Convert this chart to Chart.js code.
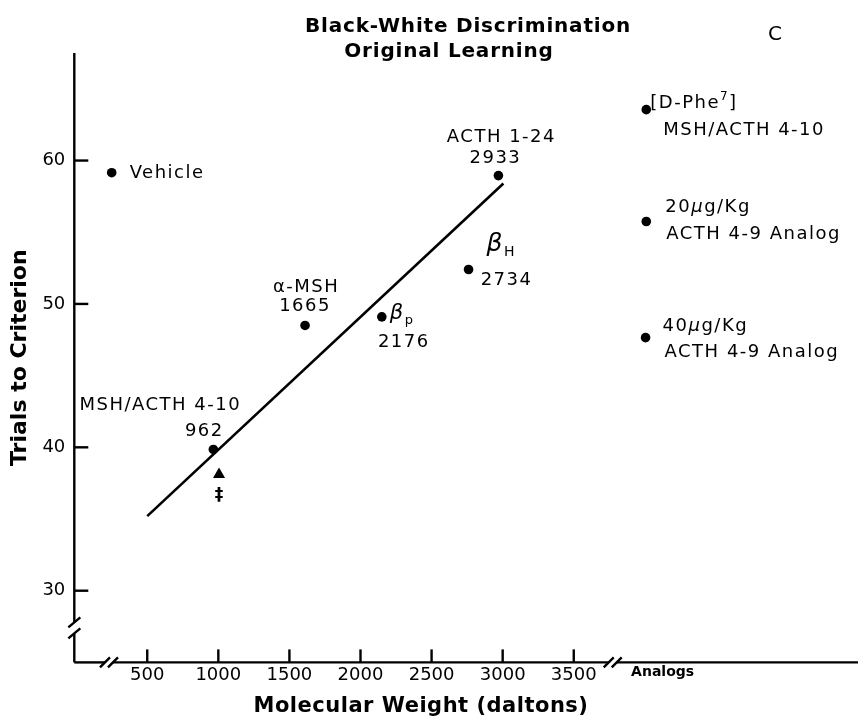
<!DOCTYPE html>
<html>
<head>
<meta charset="utf-8">
<script src="https://cdn.jsdelivr.net/npm/chart.js@4.4.1/dist/chart.umd.min.js"></script>
<style>
  html, body { margin: 0; padding: 0; background: #fff; }
  canvas { display: block; }
</style>
</head>
<body>
<canvas id="chart" width="858" height="719"></canvas>
<script>
const FONT = "'DejaVu Sans', sans-serif";

// Peptides that sit on the regression line
const peptideTop = ['MSH/ACTH 4-10', 'α-MSH', 'βp', 'βH', 'ACTH 1-24'];
const peptideMW = ['962', '1665', '2176', '2734', '2933'];
const peptideX = [965, 1610, 2150, 2760, 2970];
const peptideY = [39.85, 48.5, 49.1, 52.4, 58.95];

// Vehicle control
const vehicleX = [250];
const vehicleY = [59.15];

// Analogs (plotted off-scale at the right)
const analogTop = ['[D-Phe7]', '20μg/Kg', '40μg/Kg'];
const analogBottom = ['MSH/ACTH 4-10', 'ACTH 4-9 Analog', 'ACTH 4-9 Analog'];
const analogX = [4010, 4010, 4005];
const analogY = [63.55, 55.75, 47.65];

// Triangle (‡) under MSH/ACTH 4-10
const triangleX = [1005];
const triangleY = [38.1];

// Regression line end points
const fitX = [500, 3005];
const fitY = [35.2, 58.4];

// Axis ticks
const xTickValues = [500, 1000, 1500, 2000, 2500, 3000, 3500];
const yTickValues = [30, 40, 50, 60];
const analogsTickX = 4125;
const xBreaks = [231, 3774];

// label offsets (px) from each dot: [dx, dy, align]
const peptideTopPos = [[-53, -44, 'center'], [1, -38, 'center'], [8, -2, 'left'], [18, -25, 'left'], [3, -38, 'center']];
const peptideMWPos = [[-9, -18, 'center'], [0, -19, 'center'], [22, 25, 'center'], [38, 11, 'center'], [-3, -17, 'center']];
const analogTopPos = [[4, -6], [19, -14], [17, -11]];
const analogBottomPos = [[17, 21], [20, 13], [19, 15]];

// rich text pieces: [text, size, style, dy]
const RICH = {
  'βp': [['β', 21, 'italic', -1], ['p', 13, '', 6]],
  'βH': [['β', 25, 'italic', 0], ['H', 14, '', 8]],
  '[D-Phe7]': [['[D-Phe', 18, '', 0], ['7', 12, '', -7], [']', 18, '', 0]],
  '20μg/Kg': [['20', 18, '', 0], ['μ', 18, 'italic', 0], ['g/Kg', 18, '', 0]],
  '40μg/Kg': [['40', 18, '', 0], ['μ', 18, 'italic', 0], ['g/Kg', 18, '', 0]]
};

function drawRich(ctx, text, x, y, align) {
  const parts = RICH[text] || [[text, 18, '', 0]];
  ctx.letterSpacing = '1.5px';
  ctx.textAlign = 'left';
  ctx.textBaseline = 'middle';
  let w = 0;
  parts.forEach(p => {
    ctx.font = `${p[2]} ${p[1]}px ${FONT}`;
    w += ctx.measureText(p[0]).width;
  });
  let cx = align === 'center' ? x - w / 2 : x;
  parts.forEach(p => {
    ctx.font = `${p[2]} ${p[1]}px ${FONT}`;
    ctx.fillText(p[0], cx, y + p[3]);
    cx += ctx.measureText(p[0]).width;
  });
  ctx.letterSpacing = '0px';
}

const decor = {
  id: 'decor',
  afterDraw(chart) {
    const ctx = chart.ctx;
    const xs = chart.scales.x, ys = chart.scales.y;
    const { left, top, bottom } = chart.chartArea;
    ctx.save();
    ctx.strokeStyle = '#000';
    ctx.fillStyle = '#000';
    ctx.lineWidth = 2.4;
    const seg = (x1, y1, x2, y2) => {
      ctx.beginPath(); ctx.moveTo(x1, y1); ctx.lineTo(x2, y2); ctx.stroke();
    };

    // y axis with break
    const yb1 = bottom - 40, yb2 = bottom - 29;
    seg(left, top, left, yb1);
    seg(left, yb2, left, bottom);
    seg(left - 6, yb1 + 5, left + 6, yb1 - 5);
    seg(left - 6, yb2 + 5, left + 6, yb2 - 5);

    // x axis with breaks, running to the page edge
    let xStart = left;
    xBreaks.forEach(v => {
      const c = xs.getPixelForValue(v);
      seg(xStart, bottom, c - 4, bottom);
      seg(c - 9, bottom + 5, c + 1, bottom - 5);
      seg(c - 1, bottom + 5, c + 9, bottom - 5);
      xStart = c + 4;
    });
    seg(xStart, bottom, chart.width, bottom);

    // inward tick marks
    ys.ticks.forEach(t => {
      const p = ys.getPixelForValue(t.value);
      seg(left, p, left + 14, p);
    });
    xs.ticks.forEach(t => {
      if (!xTickValues.includes(t.value)) return;
      const p = xs.getPixelForValue(t.value);
      seg(p, bottom, p, bottom - 13);
    });

    // titles
    ctx.letterSpacing = '0.8px';
    ctx.font = `bold 20px ${FONT}`;
    ctx.textAlign = 'center';
    ctx.textBaseline = 'alphabetic';
    ctx.fillText('Black-White Discrimination', 468, 32);
    ctx.fillText('Original Learning', 449, 57);
    ctx.letterSpacing = '0.5px';
    ctx.font = `bold 21px ${FONT}`;
    ctx.textBaseline = 'middle';
    ctx.fillText('Molecular Weight (daltons)', 421, 707);
    ctx.letterSpacing = '0px';
    ctx.textBaseline = 'alphabetic';
    ctx.font = `20px ${FONT}`;
    ctx.fillText('C', 775, 40);

    // point labels
    const pts = chart.getDatasetMeta(1).data;
    pts.forEach((pt, i) => {
      drawRich(ctx, peptideTop[i], pt.x + peptideTopPos[i][0], pt.y + peptideTopPos[i][1], peptideTopPos[i][2]);
      drawRich(ctx, peptideMW[i], pt.x + peptideMWPos[i][0], pt.y + peptideMWPos[i][1], peptideMWPos[i][2]);
    });
    const veh = chart.getDatasetMeta(2).data[0];
    drawRich(ctx, 'Vehicle', veh.x + 18, veh.y + 1, 'left');
    chart.getDatasetMeta(3).data.forEach((pt, i) => {
      drawRich(ctx, analogTop[i], pt.x + analogTopPos[i][0], pt.y + analogTopPos[i][1], 'left');
      drawRich(ctx, analogBottom[i], pt.x + analogBottomPos[i][0], pt.y + analogBottomPos[i][1], 'left');
    });
    const tri = chart.getDatasetMeta(4).data[0];
    ctx.font = `bold 17px ${FONT}`;
    ctx.textAlign = 'center';
    ctx.textBaseline = 'middle';
    ctx.fillText('‡', tri.x, tri.y + 21);
    ctx.restore();
  }
};

new Chart(document.getElementById('chart'), {
  type: 'scatter',
  data: {
    datasets: [
      {
        type: 'line',
        data: fitX.map((x, i) => ({ x, y: fitY[i] })),
        borderColor: '#000',
        borderWidth: 2.6,
        pointRadius: 0
      },
      {
        data: peptideX.map((x, i) => ({ x, y: peptideY[i] })),
        backgroundColor: '#000', borderWidth: 0, pointRadius: 4.8
      },
      {
        data: vehicleX.map((x, i) => ({ x, y: vehicleY[i] })),
        backgroundColor: '#000', borderWidth: 0, pointRadius: 4.8
      },
      {
        data: analogX.map((x, i) => ({ x, y: analogY[i] })),
        backgroundColor: '#000', borderWidth: 0, pointRadius: 4.8
      },
      {
        data: triangleX.map((x, i) => ({ x, y: triangleY[i] })),
        backgroundColor: '#000', borderWidth: 0, pointRadius: 7, pointStyle: 'triangle'
      }
    ]
  },
  options: {
    responsive: false,
    animation: false,
    devicePixelRatio: 1,
    layout: { padding: { top: 53, right: 0, bottom: 31, left: 7 } },
    plugins: { legend: { display: false }, tooltip: { enabled: false } },
    scales: {
      x: {
        type: 'linear',
        min: -13,
        max: 5450,
        afterBuildTicks: s => {
          s.ticks = xTickValues.map(v => ({ value: v })).concat([{ value: analogsTickX }]);
        },
        ticks: {
          autoSkip: false,
          maxRotation: 0,
          minRotation: 0,
          padding: 2,
          color: '#000',
          font: c => (c.tick && c.tick.value === analogsTickX)
            ? { family: FONT, size: 14, weight: 'bold' }
            : { family: FONT, size: 18 },
          callback: v => v === analogsTickX ? 'Analogs' : String(v)
        },
        grid: { display: false, drawTicks: false },
        border: { display: false }
      },
      y: {
        min: 25,
        max: 67.5,
        afterBuildTicks: s => {
          s.ticks = yTickValues.map(v => ({ value: v }));
        },
        ticks: { padding: 9, color: '#000', font: { family: FONT, size: 18 } },
        grid: { display: false, drawTicks: false },
        border: { display: false },
        title: {
          display: true,
          text: 'Trials to Criterion',
          color: '#000',
          font: { family: FONT, size: 22, weight: 'bold' },
          padding: { top: 0, bottom: 0 }
        }
      }
    }
  },
  plugins: [decor]
});
</script>
</body>
</html>
